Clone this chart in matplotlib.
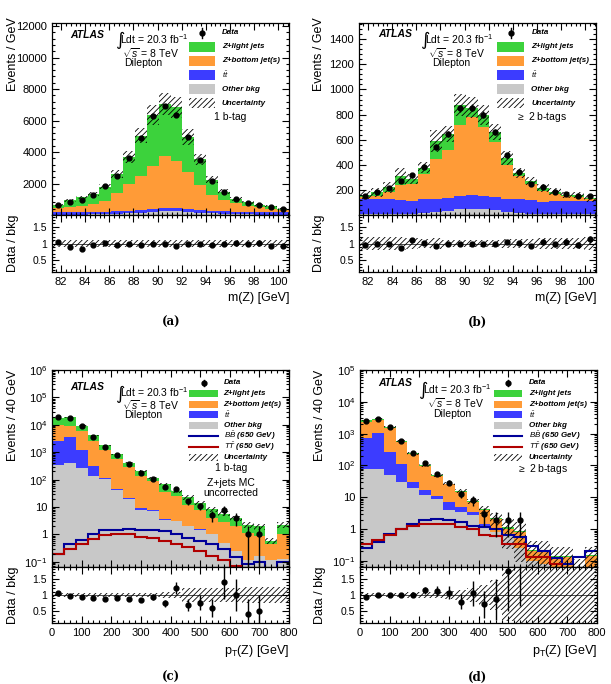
import numpy as np
import matplotlib
matplotlib.use("Agg")
import matplotlib.pyplot as plt
from matplotlib.patches import Rectangle
from matplotlib.lines import Line2D
from matplotlib.ticker import AutoMinorLocator, FixedLocator, FuncFormatter, LogLocator, NullFormatter

plt.rcParams['font.family'] = ['Liberation Sans', 'DejaVu Sans']
plt.rcParams['mathtext.fontset'] = 'custom'
plt.rcParams['mathtext.rm'] = 'Liberation Sans'
plt.rcParams['mathtext.it'] = 'Liberation Sans:italic'
plt.rcParams['mathtext.bf'] = 'Liberation Sans:bold'
plt.rcParams['hatch.linewidth'] = 0.6

C_ZL = '#3cd23c'
C_ZB = '#ff9b37'
C_TT = '#3c3cff'
C_OTH = '#c8c8c8'
C_BB = '#000099'
C_TPAIR = '#b00000'

# ---- binning
mz_edges = np.linspace(81.25, 100.9, 21)
pt_edges = np.arange(0, 840, 40)

# ---- (a) m(Z), 1 b-tag  [events / GeV]
data_a = [650, 820, 950, 1300, 1850, 2500, 3600, 4900, 6300, 6900, 6350, 4950, 3500, 2150, 1450, 1020, 780, 640, 530, 380]
oth_a = [20, 25, 30, 40, 50, 70, 100, 150, 220, 280, 280, 220, 150, 100, 70, 50, 40, 30, 25, 20]
tt_a = [170, 170, 170, 170, 170, 170, 170, 180, 180, 180, 180, 180, 170, 170, 170, 170, 170, 170, 170, 170]
zb_a = [260, 305, 370, 490, 680, 1160, 1680, 2170, 2700, 3290, 2990, 2300, 1580, 1010, 710, 520, 390, 280, 205, 140]
zl_a = [180, 430, 550, 640, 900, 1200, 1720, 2550, 3260, 3290, 3380, 2250, 1640, 960, 530, 270, 200, 150, 170, 75]
unc_a = [0.1] * 20

# ---- (b) m(Z), >= 2 b-tags
data_b = [155, 180, 215, 270, 315, 385, 545, 645, 850, 855, 800, 660, 475, 345, 250, 225, 180, 170, 155, 150]
oth_b = [5, 5, 5, 8, 10, 15, 20, 30, 45, 50, 50, 40, 25, 15, 10, 8, 5, 5, 5, 5]
tt_b = [120, 120, 120, 112, 100, 110, 110, 105, 105, 110, 100, 100, 105, 115, 110, 97, 110, 105, 105, 105]
zb_b = [15, 25, 55, 120, 135, 205, 320, 385, 570, 620, 550, 440, 270, 180, 125, 90, 55, 40, 30, 15]
zl_b = [20, 30, 39, 70, 41, 47, 136, 125, 156, 75, 100, 80, 52, 25, 27, 19, 14, 12, 21, 9]
unc_b = [0.2, 0.2, 0.2, 0.2, 0.15, 0.12, 0.15, 0.1, 0.1, 0.1, 0.1, 0.1, 0.12, 0.12, 0.12, 0.15, 0.15, 0.15, 0.15, 0.2]

# ---- (c) pT(Z), 1 b-tag  [events / 40 GeV]
data_c = [19000, 18000, 8700, 3700, 1560, 760, 365, 175, 108, 52, 45, 16, 11, 5, 8, 4, 1, 1, 0, 0]
oth_c = [350, 410, 270, 130, 105, 43, 20, 8, 7, 3.4, 3, 2, 1.5, 1, 0.5, 0.24, 0.12, 0.16, 0.12, 0.13]
tt_c = [2150, 3290, 980, 180, 10, 2, 1, 1, 0.5, 0.2, 0.2, 0.1, 0.1, 0, 0, 0, 0, 0, 0, 0]
zb_c = [7000, 5300, 4750, 2190, 1085, 525, 269, 121, 79.5, 31.4, 21.8, 9.9, 6.4, 3.0, 2.3, 1.76, 0.98, 0.69, 0.33, 0.87]
zl_c = [8600, 9600, 3150, 1600, 590, 260, 130, 76, 27, 34, 12, 11, 6.4, 4.3, 3.0, 2.0, 1.2, 1.15, 0.15, 1.2]
bb_c = [0.2, 0.45, 0.65, 1.05, 1.4, 1.5, 1.6, 1.45, 1.5, 1.3, 1.0, 0.75, 0.6, 0.45, 0.3, 0.15, 0.08, 0.1, 0.05, 0.1]
tpair_c = [0.2, 0.3, 0.45, 0.7, 0.95, 1.0, 1.05, 0.8, 0.75, 0.6, 0.45, 0.35, 0.25, 0.17, 0.12, 0.07, 0.04, 0.03, 0.02, 0.02]
unc_c = [0.05, 0.05, 0.05, 0.05, 0.05, 0.06, 0.06, 0.07, 0.07, 0.08, 0.1, 0.2, 0.2, 0.2, 0.22, 0.22, 0.25, 0.25, 0.25, 0.25]

# ---- (d) pT(Z), >= 2 b-tags
data_d = [2460, 2950, 1620, 590, 240, 117, 55, 29, 13, 8, 3, 2, 2, 2, 0, 0, 0, 0, 0, 0]
oth_d = [80, 75, 50, 30, 20, 12, 9, 4, 3.5, 2.8, 1.2, 0.8, 0.6, 0.25, 0.1, 0.08, 0.06, 0, 0, 0]
tt_d = [660, 975, 220, 78, 11, 4.5, 2, 3, 1.5, 0.7, 0.3, 0, 0, 0, 0, 0, 0, 0, 0, 0]
zb_d = [1560, 1700, 1230, 442, 194, 80.5, 35, 18.5, 10, 3.7, 2.5, 1.35, 0.4, 0.55, 0.1, 0.12, 0.07, 0.13, 0.05, 0.14]
zl_d = [290, 200, 120, 40, 15, 5, 3, 1.5, 1.3, 0.4, 0.2, 0.15, 0.16, 0.1, 0.02, 0.02, 0.01, 0.01, 0.01, 0.01]
bb_d = [0.25, 0.4, 0.7, 1.0, 1.5, 1.9, 2.1, 2.0, 1.7, 1.3, 1.2, 1.0, 0.65, 0.55, 0.3, 0.2, 0.12, 0.08, 0.13, 0.2]
tpair_d = [0.35, 0.45, 0.65, 1.0, 1.3, 1.45, 1.5, 1.45, 1.2, 1.0, 0.65, 0.6, 0.35, 0.35, 0.13, 0.13, 0.08, 0.05, 0.05, 0.05]
unc_d = [0.05, 0.05, 0.06, 0.07, 0.08, 0.1, 0.1, 0.12, 0.15, 0.2, 0.3, 0.45, 0.8, 0.9, 0.9, 0.9, 0.9, 0.9, 0.9, 0.9]


def ticks(ax, size=8):
    ax.tick_params(which='both', direction='in', top=True, right=True, labelsize=size, width=0.8)
    ax.tick_params(which='major', length=5)
    ax.tick_params(which='minor', length=2.5)
    for s in ax.spines.values():
        s.set_linewidth(0.9)


def log_fmt(v, pos):
    e = int(round(np.log10(v)))
    if e == 0:
        return '1'
    if e == 1:
        return '10'
    return r'$10^{%d}$' % e


def draw_panel(fig, rect_main, rect_ratio, edges, comps, data, unc, logy, ylim, lines=None):
    ax = fig.add_axes(rect_main)
    rx = fig.add_axes(rect_ratio)
    centers = 0.5 * (edges[1:] + edges[:-1])
    floor = 1e-4 if logy else 0.0
    base = np.full(len(centers), floor)
    for vals, col in zip(comps, [C_OTH, C_TT, C_ZB, C_ZL]):
        top = base + np.asarray(vals, float)
        ax.stairs(top, edges, baseline=base, fill=True, facecolor=col, lw=0)
        base = top
    total = base - floor
    u = np.minimum(np.asarray(unc), 0.95)
    ax.stairs(total * (1 + u), edges, baseline=total * (1 - u), fill=True,
              facecolor='none', edgecolor='k', hatch='//////', lw=0)
    if lines:
        for vals, col in lines:
            ax.stairs(vals, edges, baseline=None, color=col, lw=1.5)
    d = np.asarray(data, float)
    m = d > 0
    err = np.sqrt(d)
    lo = np.minimum(err, d * 0.999)
    ax.errorbar(centers[m], d[m], yerr=[lo[m], err[m]], fmt='o', color='k', ms=3.5,
                elinewidth=1, capsize=0)

    ax.set_xlim(edges[0], edges[-1])
    if logy:
        ax.set_yscale('log')
        ax.yaxis.set_major_locator(LogLocator(base=10, numticks=20))
        ax.yaxis.set_minor_locator(LogLocator(base=10, subs=np.arange(2, 10), numticks=20))
        ax.yaxis.set_major_formatter(FuncFormatter(log_fmt))
        ax.yaxis.set_minor_formatter(NullFormatter())
    else:
        ax.yaxis.set_minor_locator(AutoMinorLocator(5))
    ax.set_ylim(*ylim)
    ax.tick_params(labelbottom=False)

    # ratio
    rx.stairs(1 + np.asarray(unc), edges, baseline=1 - np.asarray(unc), fill=True,
              facecolor='none', edgecolor='k', hatch='//////', lw=0)
    rx.axhline(1, color='k', lw=0.5)
    r = d[m] / total[m]
    rx.errorbar(centers[m], r, yerr=err[m] / total[m], fmt='o', color='k', ms=3.5,
                elinewidth=1, capsize=0)
    rx.set_xlim(edges[0], edges[-1])
    rx.set_ylim(0.15, 1.85)
    rx.yaxis.set_major_locator(FixedLocator([0.5, 1, 1.5]))
    rx.yaxis.set_major_formatter(FuncFormatter(lambda v, p: '%g' % v))
    rx.yaxis.set_minor_locator(AutoMinorLocator(5))
    ticks(ax)
    ticks(rx)
    rx.tick_params(axis='y', labelsize=7.5)
    return ax, rx


def legend(ax, entries, x0, x1, xt, y0, dy, ph):
    for i, (kind, col, lab) in enumerate(entries):
        y = y0 - i * dy
        if kind == 'data':
            ax.plot([(x0 + x1) / 2], [y], 'o', color='k', ms=3.5, transform=ax.transAxes)
            ax.plot([(x0 + x1) / 2] * 2, [y - ph * 0.5, y + ph * 0.5], color='k', lw=1,
                    transform=ax.transAxes)
        elif kind == 'fill':
            ax.add_patch(Rectangle((x0, y - ph / 2), x1 - x0, ph, facecolor=col, lw=0,
                                   transform=ax.transAxes))
        elif kind == 'line':
            ax.add_line(Line2D([x0, x1], [y, y], color=col, lw=1.5, transform=ax.transAxes))
        elif kind == 'hatch':
            ax.add_patch(Rectangle((x0, y - ph / 2), x1 - x0, ph, facecolor='none',
                                   edgecolor='k', hatch='//////', lw=0,
                                   transform=ax.transAxes))
        ax.text(xt, y, lab, transform=ax.transAxes, fontsize=5.8, fontweight='bold',
                style='italic', va='center', ha='left')


def labels(ax, xa, ya, xl, yl, xs, ys, xd, yd):
    ax.text(xa, ya, 'ATLAS', transform=ax.transAxes, fontsize=7.5, fontweight='bold',
            style='italic', va='center')
    ax.text(xl, yl - 0.008, '\u222b', transform=ax.transAxes, fontsize=13,
            family='DejaVu Sans', va='center', ha='left')
    ax.text(xl + 0.022, yl, r'Ldt = 20.3 fb$^{-1}$', transform=ax.transAxes, fontsize=7.5,
            va='center')
    ax.text(xs, ys, r'$\sqrt{s}$ = 8 TeV', transform=ax.transAxes, fontsize=7.5,
            va='center', ha='left')
    ax.text(xd, yd, 'Dilepton', transform=ax.transAxes, fontsize=7.5, va='center',
            ha='center')


def ylabels(fig, x, top, ratio_mid, text):
    fig.text(x, top, text, rotation=90, fontsize=9, ha='center', va='top')
    fig.text(x, ratio_mid, 'Data / bkg', rotation=90, fontsize=9, ha='center', va='center')


fig = plt.figure(figsize=(6.11, 6.84), dpi=100)

top_main_y, top_main_h = 0.6857, 0.2807
top_rat_y, top_rat_h = 0.6023, 0.0834
bot_main_y, bot_main_h = 0.1711, 0.2880
bot_rat_y, bot_rat_h = 0.0892, 0.0819
left_l, left_r, w = 0.0851, 0.5876, 0.388

ents6 = [('data', 'k', 'Data'), ('fill', C_ZL, 'Z+light jets'), ('fill', C_ZB, 'Z+bottom jet(s)'),
         ('fill', C_TT, r'$t\bar{t}$'), ('fill', C_OTH, 'Other bkg'), ('hatch', 'k', 'Uncertainty')]
ents8 = ents6[:5] + [('line', C_BB, r'$B\bar{B}$ (650 GeV)'), ('line', C_TPAIR, r'$T\bar{T}$ (650 GeV)'),
                     ('hatch', 'k', 'Uncertainty')]

# (a)
ax, rx = draw_panel(fig, [left_l, top_main_y, w, top_main_h], [left_l, top_rat_y, w, top_rat_h],
                    mz_edges, [oth_a, tt_a, zb_a, zl_a], data_a, unc_a, False, (0, 12200))
ax.yaxis.set_major_locator(FixedLocator([2000, 4000, 6000, 8000, 10000, 12000]))
for a in (ax, rx):
    a.xaxis.set_major_locator(FixedLocator(np.arange(82, 101, 2)))
    a.xaxis.set_minor_locator(AutoMinorLocator(5))
rx.set_xlabel('m(Z) [GeV]', fontsize=9, loc='right')
legend(ax, ents6, 0.578, 0.688, 0.717, 0.948, 0.073, 0.052)
labels(ax, 0.076, 0.937, 0.266, 0.918, 0.295, 0.844, 0.384, 0.79)
ax.text(0.751, 0.51, '1 b-tag', transform=ax.transAxes, fontsize=7.5, ha='center', va='center')
ylabels(fig, 0.022, 0.975, 0.644, 'Events / GeV')
fig.text(0.28, 0.529, '(a)', fontsize=8.5, fontweight='bold', family='DejaVu Serif',
         ha='center', va='center')

# (b)
ax, rx = draw_panel(fig, [left_r, top_main_y, w, top_main_h], [left_r, top_rat_y, w, top_rat_h],
                    mz_edges, [oth_b, tt_b, zb_b, zl_b], data_b, unc_b, False, (0, 1530))
ax.yaxis.set_major_locator(FixedLocator([200, 400, 600, 800, 1000, 1200, 1400]))
for a in (ax, rx):
    a.xaxis.set_major_locator(FixedLocator(np.arange(82, 101, 2)))
    a.xaxis.set_minor_locator(AutoMinorLocator(5))
rx.set_xlabel('m(Z) [GeV]', fontsize=9, loc='right')
legend(ax, ents6, 0.584, 0.697, 0.727, 0.948, 0.073, 0.052)
labels(ax, 0.08, 0.943, 0.256, 0.918, 0.29, 0.844, 0.387, 0.79)
ax.text(0.771, 0.51, r'$\geq$ 2 b-tags', transform=ax.transAxes, fontsize=7.5, ha='center',
        va='center')
ylabels(fig, 0.522, 0.975, 0.644, 'Events / GeV')
fig.text(0.782, 0.529, '(b)', fontsize=8.5, fontweight='bold', family='DejaVu Serif',
         ha='center', va='center')

# (c)
ax, rx = draw_panel(fig, [left_l, bot_main_y, w, bot_main_h], [left_l, bot_rat_y, w, bot_rat_h],
                    pt_edges, [oth_c, tt_c, zb_c, zl_c], data_c, unc_c, True, (0.065, 1e6),
                    lines=[(bb_c, C_BB), (tpair_c, C_TPAIR)])
for a in (ax, rx):
    a.xaxis.set_major_locator(FixedLocator(np.arange(0, 801, 100)))
    a.xaxis.set_minor_locator(AutoMinorLocator(5))
rx.set_xlabel(r'p$_{\mathrm{T}}$(Z) [GeV]', fontsize=9, loc='right')
legend(ax, ents8, 0.58, 0.70, 0.724, 0.934, 0.0538, 0.035)
labels(ax, 0.076, 0.914, 0.266, 0.888, 0.296, 0.822, 0.383, 0.77)
ax.text(0.754, 0.503, '1 b-tag', transform=ax.transAxes, fontsize=7.5, ha='center', va='center')
ax.text(0.754, 0.426, 'Z+jets MC', transform=ax.transAxes, fontsize=7.5, ha='center', va='center')
ax.text(0.754, 0.376, 'uncorrected', transform=ax.transAxes, fontsize=7.5, ha='center', va='center')
ylabels(fig, 0.022, 0.459, 0.13, 'Events / 40 GeV')
fig.text(0.28, 0.0102, '(c)', fontsize=8.5, fontweight='bold', family='DejaVu Serif',
         ha='center', va='center')

# (d)
left_d = 0.5892
ax, rx = draw_panel(fig, [left_d, bot_main_y, w, bot_main_h], [left_d, bot_rat_y, w, bot_rat_h],
                    pt_edges, [oth_d, tt_d, zb_d, zl_d], data_d, unc_d, True, (0.065, 1e5),
                    lines=[(bb_d, C_BB), (tpair_d, C_TPAIR)])
for a in (ax, rx):
    a.xaxis.set_major_locator(FixedLocator(np.arange(0, 801, 100)))
    a.xaxis.set_minor_locator(AutoMinorLocator(5))
rx.set_xlabel(r'p$_{\mathrm{T}}$(Z) [GeV]', fontsize=9, loc='right')
legend(ax, ents8, 0.565, 0.684, 0.713, 0.934, 0.0538, 0.035)
labels(ax, 0.076, 0.934, 0.245, 0.904, 0.283, 0.832, 0.39, 0.777)
ax.text(0.772, 0.498, r'$\geq$ 2 b-tags', transform=ax.transAxes, fontsize=7.5, ha='center',
        va='center')
ylabels(fig, 0.524, 0.459, 0.13, 'Events / 40 GeV')
fig.text(0.782, 0.0102, '(d)', fontsize=8.5, fontweight='bold', family='DejaVu Serif',
         ha='center', va='center')

fig.savefig('out.png', dpi=100)
